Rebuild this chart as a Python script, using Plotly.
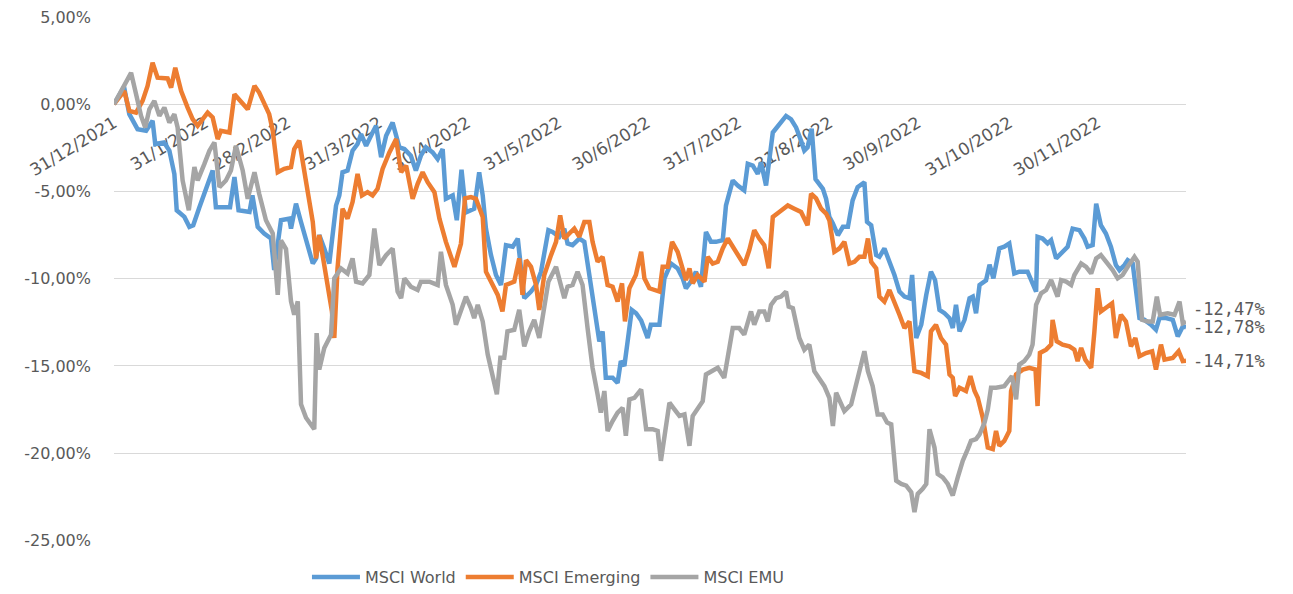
import pandas as pd
import plotly.graph_objects as go

# ---------------- data (days since 31/12/2021, cumulative return in %) ----------------
world_day = [0, 3.4, 5.2, 8, 10.9, 13.1, 14, 17, 18.8, 20.5, 21.3, 23.9, 25.6, 26.9, 29, 31.2, 33.5, 34.6, 39.4, 40.9,
             42.3, 46, 47, 48.8, 51, 53.3, 54.4, 56.7, 59.5, 60.1, 61.8, 63.5, 65.2, 67.5, 68.6, 69.7, 71.4, 73.1, 75.4, 76.5,
             77.6, 79.3, 81, 82.7, 83.9, 85.6, 87.8, 89, 90.7, 92.4, 94.6, 96.9, 98.6, 100.8, 102.5, 104.2, 105.9, 108.2, 109.9, 111.6,
             112.7, 115, 116.4, 118, 119.5, 122.3, 124, 125.2, 126.3, 128, 129.7, 131.4, 133.1, 135.4, 137.1, 138, 139.3, 141.6, 143.3, 145,
             147.5, 148.9, 151.2, 152.9, 154, 155.7, 158, 159.7, 161.4, 163.1, 164.8, 165.9, 167, 169.3, 171, 172.1, 173.3, 174.4, 175.8, 177.3,
             179, 181.2, 182.3, 185.2, 186.9, 189.1, 191.4, 193.1, 194.2, 195.9, 197.6, 199.3, 201, 202.7, 204.4, 206.7, 207.8, 210.1, 211.8, 214,
             215.2, 216.9, 218.6, 219.7, 221.4, 223.7, 225.9, 228.2, 229.9, 231.6, 233.3, 234.4, 235.5, 236.9, 238.2, 240.7, 241.8, 242.9, 244.1, 245.8,
             247.5, 249.2, 250.8, 252.5, 254.8, 255.7, 257.1, 258.8, 259.9, 261.6, 263.3, 265, 266.7, 268.4, 270.1, 271, 272.4, 274.1, 275.8, 277.4,
             278.8, 280.3, 282, 283.7, 284.8, 285.9, 287.1, 288.8, 290.5, 291.6, 292.7, 293.9, 296.1, 297.3, 298.6, 300.6, 302.3, 304, 305.7, 307.4,
             310.2, 311.9, 313.1, 313.6, 315.3, 317, 318.2, 319.9, 321.6, 323.8, 325.5, 327.8, 329.5, 330.6, 332.3, 333.5, 335.1, 336.8, 338.5, 340.2,
             341.4, 343.1, 344.2, 345.9, 348.2, 349.9, 352.1, 353.8, 355, 357.2, 359.5, 361.2, 362.9, 364]
world_ret = [0, 1.0, -0.57, -1.43, -1.52, -0.95, -2.28, -2.19, -2.66, -4.0, -6.08, -6.46, -7.03, -6.94, -5.9, -4.94, -3.8, -5.9, -5.9, -4.18,
             -6.08, -6.18, -5.23, -7.03, -7.41, -7.7, -9.5, -6.65, -6.56, -7.13, -5.7, -6.75, -7.7, -9.13, -8.84, -7.5, -8.27, -9.13, -5.8, -5.23,
             -3.9, -3.8, -2.66, -2.28, -1.71, -2.38, -1.62, -1.24, -3.04, -1.81, -1.05, -2.47, -2.57, -2.95, -3.8, -2.95, -2.47, -2.76, -3.14, -2.57,
             -5.42, -5.23, -6.65, -3.75, -6.2, -5.99, -3.9, -5.23, -7.13, -8.65, -9.79, -10.36, -8.08, -8.17, -7.7, -9.22, -11.12, -10.74, -10.36, -9.6,
             -7.22, -7.32, -7.6, -7.13, -7.98, -8.08, -7.7, -7.89, -9.79, -11.69, -13.6, -13.02, -15.68, -15.68, -15.97, -14.73, -15.0, -13.6, -11.79, -11.98,
             -12.4, -13.4, -12.64, -12.64, -9.98, -9.13, -9.41, -9.98, -10.55, -10.17, -9.6, -10.46, -7.32, -7.89, -7.89, -7.79, -5.8, -4.37, -4.66, -4.94,
             -3.42, -3.52, -3.99, -3.33, -4.66, -1.62, -1.14, -0.67, -0.86, -1.33, -2.09, -2.66, -2.47, -1.4, -4.3, -4.85, -5.42, -6.46, -6.84, -7.51,
             -7.03, -7.03, -5.51, -4.75, -4.47, -6.75, -6.94, -8.65, -8.75, -8.27, -9.03, -9.79, -10.74, -11.03, -11.12, -9.79, -13.4, -12.64, -10.93, -9.6,
             -10.08, -11.79, -11.98, -12.26, -12.83, -11.5, -13.02, -12.36, -11.12, -11.03, -11.98, -10.36, -10.1, -9.2, -9.98, -8.27, -8.17, -7.98, -9.7, -9.6,
             -9.6, -10.36, -10.74, -7.6, -7.7, -7.98, -7.79, -8.84, -8.56, -8.17, -7.13, -7.22, -7.7, -8.17, -8.08, -5.7, -6.94, -7.41, -8.17, -9.22,
             -9.51, -9.22, -8.94, -9.13, -12.26, -12.36, -12.64, -12.93, -12.26, -12.26, -12.36, -13.31, -12.74, -12.78]

emerging_day = [0, 3.5, 5.2, 7.5, 9.7, 11.4, 13.1, 14.8, 18.2, 19.4, 20.8, 22.8, 25, 26.7, 28.4, 30.1, 31.8, 33.5, 35.2, 36.3,
                39.2, 40.9, 43.1, 45.4, 47.7, 49.3, 52.7, 53.9, 55.6, 57.8, 60.1, 61.2, 62.9, 64, 65.8, 67.5, 68.6, 69.7, 70.9, 72.5,
                74, 74.8, 75.9, 77.6, 79.3, 81, 82.7, 84.2, 86.1, 87.8, 89.5, 91.2, 93.5, 95.8, 97.5, 99.2, 101.4, 103.1, 104.8, 106.5,
                108.8, 110.5, 112.7, 115.6, 117.8, 119.2, 121.2, 122.9, 125.2, 126.3, 128.6, 130.3, 131.9, 133.1, 135.9, 137.6, 138.7, 139.9, 141.6, 143.3,
                144.4, 146.1, 148.4, 150.1, 151.5, 152.9, 154.6, 156.3, 158, 159.7, 161.4, 162.5, 164.2, 165.9, 167.6, 169.3, 171, 172.5, 173.5, 175,
                177.2, 179, 180.1, 181.8, 185.2, 186.3, 188, 189.5, 191.4, 193.1, 194.2, 195.4, 196.5, 198.2, 200.5, 201.6, 203.3, 205, 206.7, 208.4,
                210.1, 211.8, 214, 215.7, 217.4, 219.1, 220.8, 222.3, 223.7, 225.9, 228.8, 231, 233.3, 235.5, 236.7, 238.4, 240.1, 241.8, 242.9, 244.6,
                246.3, 248, 249.7, 251.4, 253.1, 254.8, 256, 257.1, 258.8, 259.9, 261.6, 263.3, 265, 266.7, 268.4, 270.1, 271.8, 274.1, 276.3, 277.4,
                279.1, 280.8, 282.5, 283.7, 284.8, 285.6, 287.1, 289.3, 290.8, 292.2, 293.3, 295, 296.7, 298.4, 299.5, 300.6, 302.3, 304, 304.6, 306.3,
                308.6, 310.8, 312.9, 313.6, 314.4, 316.5, 318.2, 318.7, 320.1, 322.1, 324.4, 326.1, 327.2, 328.4, 329.8, 331.8, 332.9, 334, 335.1, 336.8,
                338.9, 340.2, 341.9, 343.6, 345.3, 346.8, 348.2, 350.4, 352.5, 353.8, 355.5, 356.7, 359.5, 361.5, 362.9, 364]
emerging_ret = [0, 0.76, -0.38, -0.48, 0.19, 1.05, 2.38, 1.52, 1.48, 0.95, 2.09, 0.76, -0.19, -0.86, -1.24, -0.86, -0.48, -0.76, -2.0, -1.52,
                -1.62, 0.57, 0.19, -0.29, 1.05, 0.67, -0.57, -1.52, -3.9, -3.7, -3.61, -2.57, -2.09, -3.33, -5.04, -6.75, -8.84, -7.5, -8.65, -10.17,
                -11.88, -13.4, -9.41, -5.99, -6.56, -5.61, -3.99, -5.23, -5.04, -5.23, -4.85, -3.71, -2.76, -2.0, -3.9, -3.52, -5.42, -4.56, -3.9, -4.47,
                -5.04, -6.56, -7.89, -9.32, -8.0, -5.4, -5.32, -5.42, -6.46, -9.6, -10.36, -10.93, -11.88, -10.36, -10.17, -8.84, -10.93, -8.94, -9.32, -10.36,
                -11.79, -9.79, -8.65, -7.89, -6.37, -7.7, -7.41, -7.13, -7.6, -6.75, -6.75, -7.89, -9.03, -8.75, -10.36, -10.46, -11.31, -10.27, -12.45, -10.55,
                -9.79, -8.46, -9.98, -10.55, -10.74, -9.32, -9.32, -7.89, -8.46, -9.41, -10.08, -9.41, -10.27, -9.79, -10.17, -8.75, -9.13, -9.03, -8.27, -7.7,
                -8.17, -8.65, -9.22, -8.37, -7.22, -7.7, -8.08, -9.41, -6.46, -6.18, -5.8, -5.99, -6.18, -6.94, -5.13, -5.4, -5.99, -6.27, -6.65, -8.46,
                -8.27, -7.89, -9.13, -9.03, -8.75, -8.75, -7.7, -9.03, -9.41, -11.03, -11.31, -10.65, -11.31, -12.07, -12.83, -12.45, -15.3, -15.4, -15.59, -13.02,
                -12.64, -13.4, -13.78, -15.49, -15.68, -16.73, -16.25, -16.44, -15.59, -16.44, -16.83, -17.97, -19.68, -19.77, -18.73, -19.58, -19.3, -18.73, -16.44, -15.49,
                -15.21, -15.11, -15.21, -17.3, -14.26, -14.07, -13.78, -12.36, -13.59, -13.78, -13.88, -14.07, -14.73, -13.97, -14.64, -15.11, -13.02, -10.55, -11.88, -11.69,
                -11.41, -13.4, -12.07, -12.45, -13.88, -13.4, -14.45, -14.26, -14.16, -15.21, -13.78, -14.64, -14.54, -14.16, -14.73, -14.71]

emu_day = [0, 2.9, 5.8, 7.5, 9.2, 10.6, 12, 13.7, 15.4, 17.1, 18.8, 20.5, 21.6, 23.3, 25.4, 27.3, 28.4, 30.7, 32.4, 34.1,
           35.8, 38, 39.7, 41.4, 43.7, 45.4, 47.7, 49.3, 51.6, 53.9, 55.6, 56.7, 58.4, 60.1, 61.2, 62.4, 63.5, 65.2, 66.9, 68,
           68.8, 69.7, 71.4, 73.7, 74.8, 77.1, 79.3, 81, 82.2, 84.4, 86.7, 88.4, 90.1, 92.4, 94.6, 96.3, 97.5, 98.6, 100.8, 103.1,
           104.2, 107.1, 109.9, 111, 112.7, 115, 116.1, 117.8, 119.5, 121.2, 122.3, 123.5, 125.2, 126.9, 128.6, 130, 131.2, 132.5, 133.6, 135.9,
           137.6, 139.3, 141, 142.7, 144.4, 146.1, 147.5, 150.1, 151.8, 152.9, 154, 155.7, 157.4, 159.1, 160.8, 162.5, 164.2, 165.3, 166.5, 167.6,
           169.3, 171, 172.7, 173.8, 175, 176.7, 179, 180.7, 182.9, 184.6, 185.7, 187.4, 188.6, 190.3, 192, 193.7, 195.4, 196.5, 198.2, 199.9,
           201, 202.7, 205, 207.2, 208.4, 210.1, 212.3, 214, 216.3, 217.4, 219.1, 220.8, 222, 223.1, 224.8, 226.5, 228.2, 229.1, 230.5, 232.7,
           234.4, 236.1, 237.8, 239.5, 241.2, 242.9, 244.1, 245.2, 246.3, 248, 250.3, 252, 253.7, 254.8, 256, 257.6, 259.3, 261, 262.5, 263.9,
           265.6, 267.3, 269, 270.7, 271.8, 272.9, 274.6, 275.8, 276.9, 278.6, 279.7, 281.4, 283.1, 284.8, 286.5, 288.2, 289.9, 291, 292.7, 293.9,
           295.6, 296.7, 297.8, 299.5, 302.3, 304, 304.9, 306.3, 307.4, 309.1, 310.8, 311.9, 313.1, 314.8, 316.5, 318.2, 319.3, 320.4, 321.6, 323.3,
           325, 326.1, 328.4, 330.1, 331.8, 333.5, 335.1, 337.4, 339.1, 340.8, 342.5, 344.2, 346.5, 347.6, 349.1, 351, 352.7, 354.1, 355.2, 357.8,
           360.1, 361.8, 362.9, 364]
emu_ret = [0, 0.95, 1.8, 0.57, -0.67, -1.33, -0.29, 0.19, -0.67, -0.19, -1.05, -0.57, -1.33, -4.37, -6.08, -3.6, -4.37, -3.42, -2.66, -2.19,
           -4.75, -4.37, -3.8, -2.38, -3.8, -5.42, -3.9, -5.13, -6.65, -7.41, -10.93, -7.8, -8.3, -11.3, -12.07, -11.3, -17.2, -17.97, -18.44, -18.63,
           -13.12, -15.21, -13.97, -13.21, -9.98, -9.41, -9.7, -8.84, -10.17, -10.27, -9.79, -7.13, -9.22, -8.65, -8.27, -10.74, -11.12, -9.98, -10.46, -10.65,
           -10.17, -10.17, -10.36, -8.46, -10.36, -11.5, -12.64, -11.8, -11.03, -11.69, -12.26, -11.5, -12.45, -14.35, -15.68, -16.63, -14.54, -14.54, -13.02, -12.93,
           -11.79, -13.88, -13.02, -12.36, -13.4, -11.5, -10.17, -9.32, -10.55, -11.12, -10.46, -10.36, -9.6, -10.36, -12.83, -15.11, -16.63, -17.68, -16.44, -18.73,
           -18.16, -17.68, -17.4, -19.01, -16.92, -16.83, -16.35, -18.63, -18.63, -18.73, -20.44, -18.44, -17.11, -17.49, -17.87, -17.78, -19.58, -17.87, -17.49, -17.02,
           -15.49, -15.3, -15.11, -15.68, -14.35, -12.83, -12.83, -13.21, -11.88, -12.64, -11.88, -11.88, -12.45, -11.5, -11.12, -11.03, -10.74, -11.6, -11.69, -13.4,
           -14.07, -13.78, -15.3, -15.78, -16.16, -16.83, -18.44, -16.54, -17.02, -17.59, -17.21, -16.06, -14.92, -14.16, -15.3, -16.16, -17.78, -17.78, -18.25, -18.35,
           -21.58, -21.77, -21.86, -22.24, -23.38, -22.34, -22.05, -21.77, -18.63, -19.68, -21.2, -21.39, -21.77, -22.43, -21.39, -20.44, -19.77, -19.3, -19.2, -18.92,
           -18.25, -17.5, -16.25, -16.25, -16.16, -15.78, -15.59, -16.92, -14.92, -14.73, -14.35, -13.78, -11.5, -10.84, -10.65, -10.08, -10.55, -11.03, -10.08, -10.17,
           -10.36, -9.79, -9.13, -9.32, -9.7, -8.84, -8.65, -9.13, -9.51, -9.98, -9.79, -9.32, -8.75, -9.03, -12.36, -12.45, -12.45, -11.03, -12.07, -11.98,
           -12.07, -11.31, -12.55, -12.47]

series_names = ["MSCI World", "MSCI Emerging", "MSCI EMU"]
series_colors = ["#5B9BD5", "#ED7D31", "#A5A5A5"]

tick_dates = ["2021-12-31", "2022-01-31", "2022-02-28", "2022-03-31", "2022-04-30", "2022-05-31",
              "2022-06-30", "2022-07-31", "2022-08-31", "2022-09-30", "2022-10-31", "2022-11-30"]
tick_labels = ["31/12/2021", "31/1/2022", "28/2/2022", "31/3/2022", "30/4/2022", "31/5/2022",
               "30/6/2022", "31/7/2022", "31/8/2022", "30/9/2022", "31/10/2022", "30/11/2022"]
y_ticks = [5, 0, -5, -10, -15, -20, -25]
y_labels = ["5,00%", "0,00%", "-5,00%", "-10,00%", "-15,00%", "-20,00%", "-25,00%"]

# ---------------- figure ----------------
W, H = 1293, 594
M_T, M_B = 17, 0
plot_bottom_px = 544          # bottom of plot area in page pixels
legend_center_px = 581
paper_h = H - M_T - M_B
y_dom0 = (H - M_B - plot_bottom_px) / paper_h
y_min, y_max = -25, 5
zero_pos = y_dom0 + (0 - y_min) / (y_max - y_min) * (1 - y_dom0)
legend_y = (H - M_B - legend_center_px) / paper_h

base = pd.Timestamp("2021-12-31")
all_days = [world_day, emerging_day, emu_day]
all_vals = [world_ret, emerging_ret, emu_ret]
label_shift = [0, 0, 13]

fig = go.Figure()
for name, color, days, vals in zip(series_names, series_colors, all_days, all_vals):
    x = base + pd.to_timedelta(days, unit="D")
    fig.add_trace(go.Scatter(x=x, y=vals, mode="lines", name=name,
                             line=dict(color=color, width=4.5)))

for days, vals, shift in zip(all_days, all_vals, label_shift):
    x_last = base + pd.to_timedelta(days[-1], unit="D")
    txt = f"{vals[-1]:.2f}".replace(".", ",") + "%"
    fig.add_annotation(x=x_last, y=vals[-1], text=txt, showarrow=False,
                       xanchor="left", yanchor="middle", xshift=5, yshift=shift,
                       font=dict(family="DejaVu Sans Mono", size=17, color="#595959"))

fig.update_layout(
    width=W, height=H,
    margin=dict(l=114, r=107, t=M_T, b=M_B),
    paper_bgcolor="white", plot_bgcolor="white",
    font=dict(family="DejaVu Sans", size=16, color="#595959"),
    showlegend=True,
    legend=dict(orientation="h", x=0.18, y=legend_y, xanchor="left", yanchor="middle",
                itemwidth=48, font=dict(size=16, color="#595959")),
    xaxis=dict(type="date", range=["2021-12-31", "2022-12-30"],
               anchor="free", position=zero_pos, layer="below traces",
               tickmode="array", tickvals=tick_dates, ticktext=tick_labels,
               tickangle=-31, showgrid=False, showline=False, zeroline=False,
               ticks="", ticklabelstandoff=5, automargin=False,
               tickfont=dict(size=17, color="#595959")),
    yaxis=dict(range=[y_min, y_max], domain=[y_dom0, 1], tickmode="array",
               tickvals=y_ticks, ticktext=y_labels, layer="below traces",
               showgrid=True, gridcolor="#D9D9D9", gridwidth=1.3, zeroline=False,
               showline=False, ticks="", ticklabelstandoff=22, automargin=False,
               tickfont=dict(size=16, color="#595959")),
)

fig.write_html("out.html", config={"displayModeBar": False},
               post_script="document.body.style.margin='0';document.body.style.overflow='hidden';")
